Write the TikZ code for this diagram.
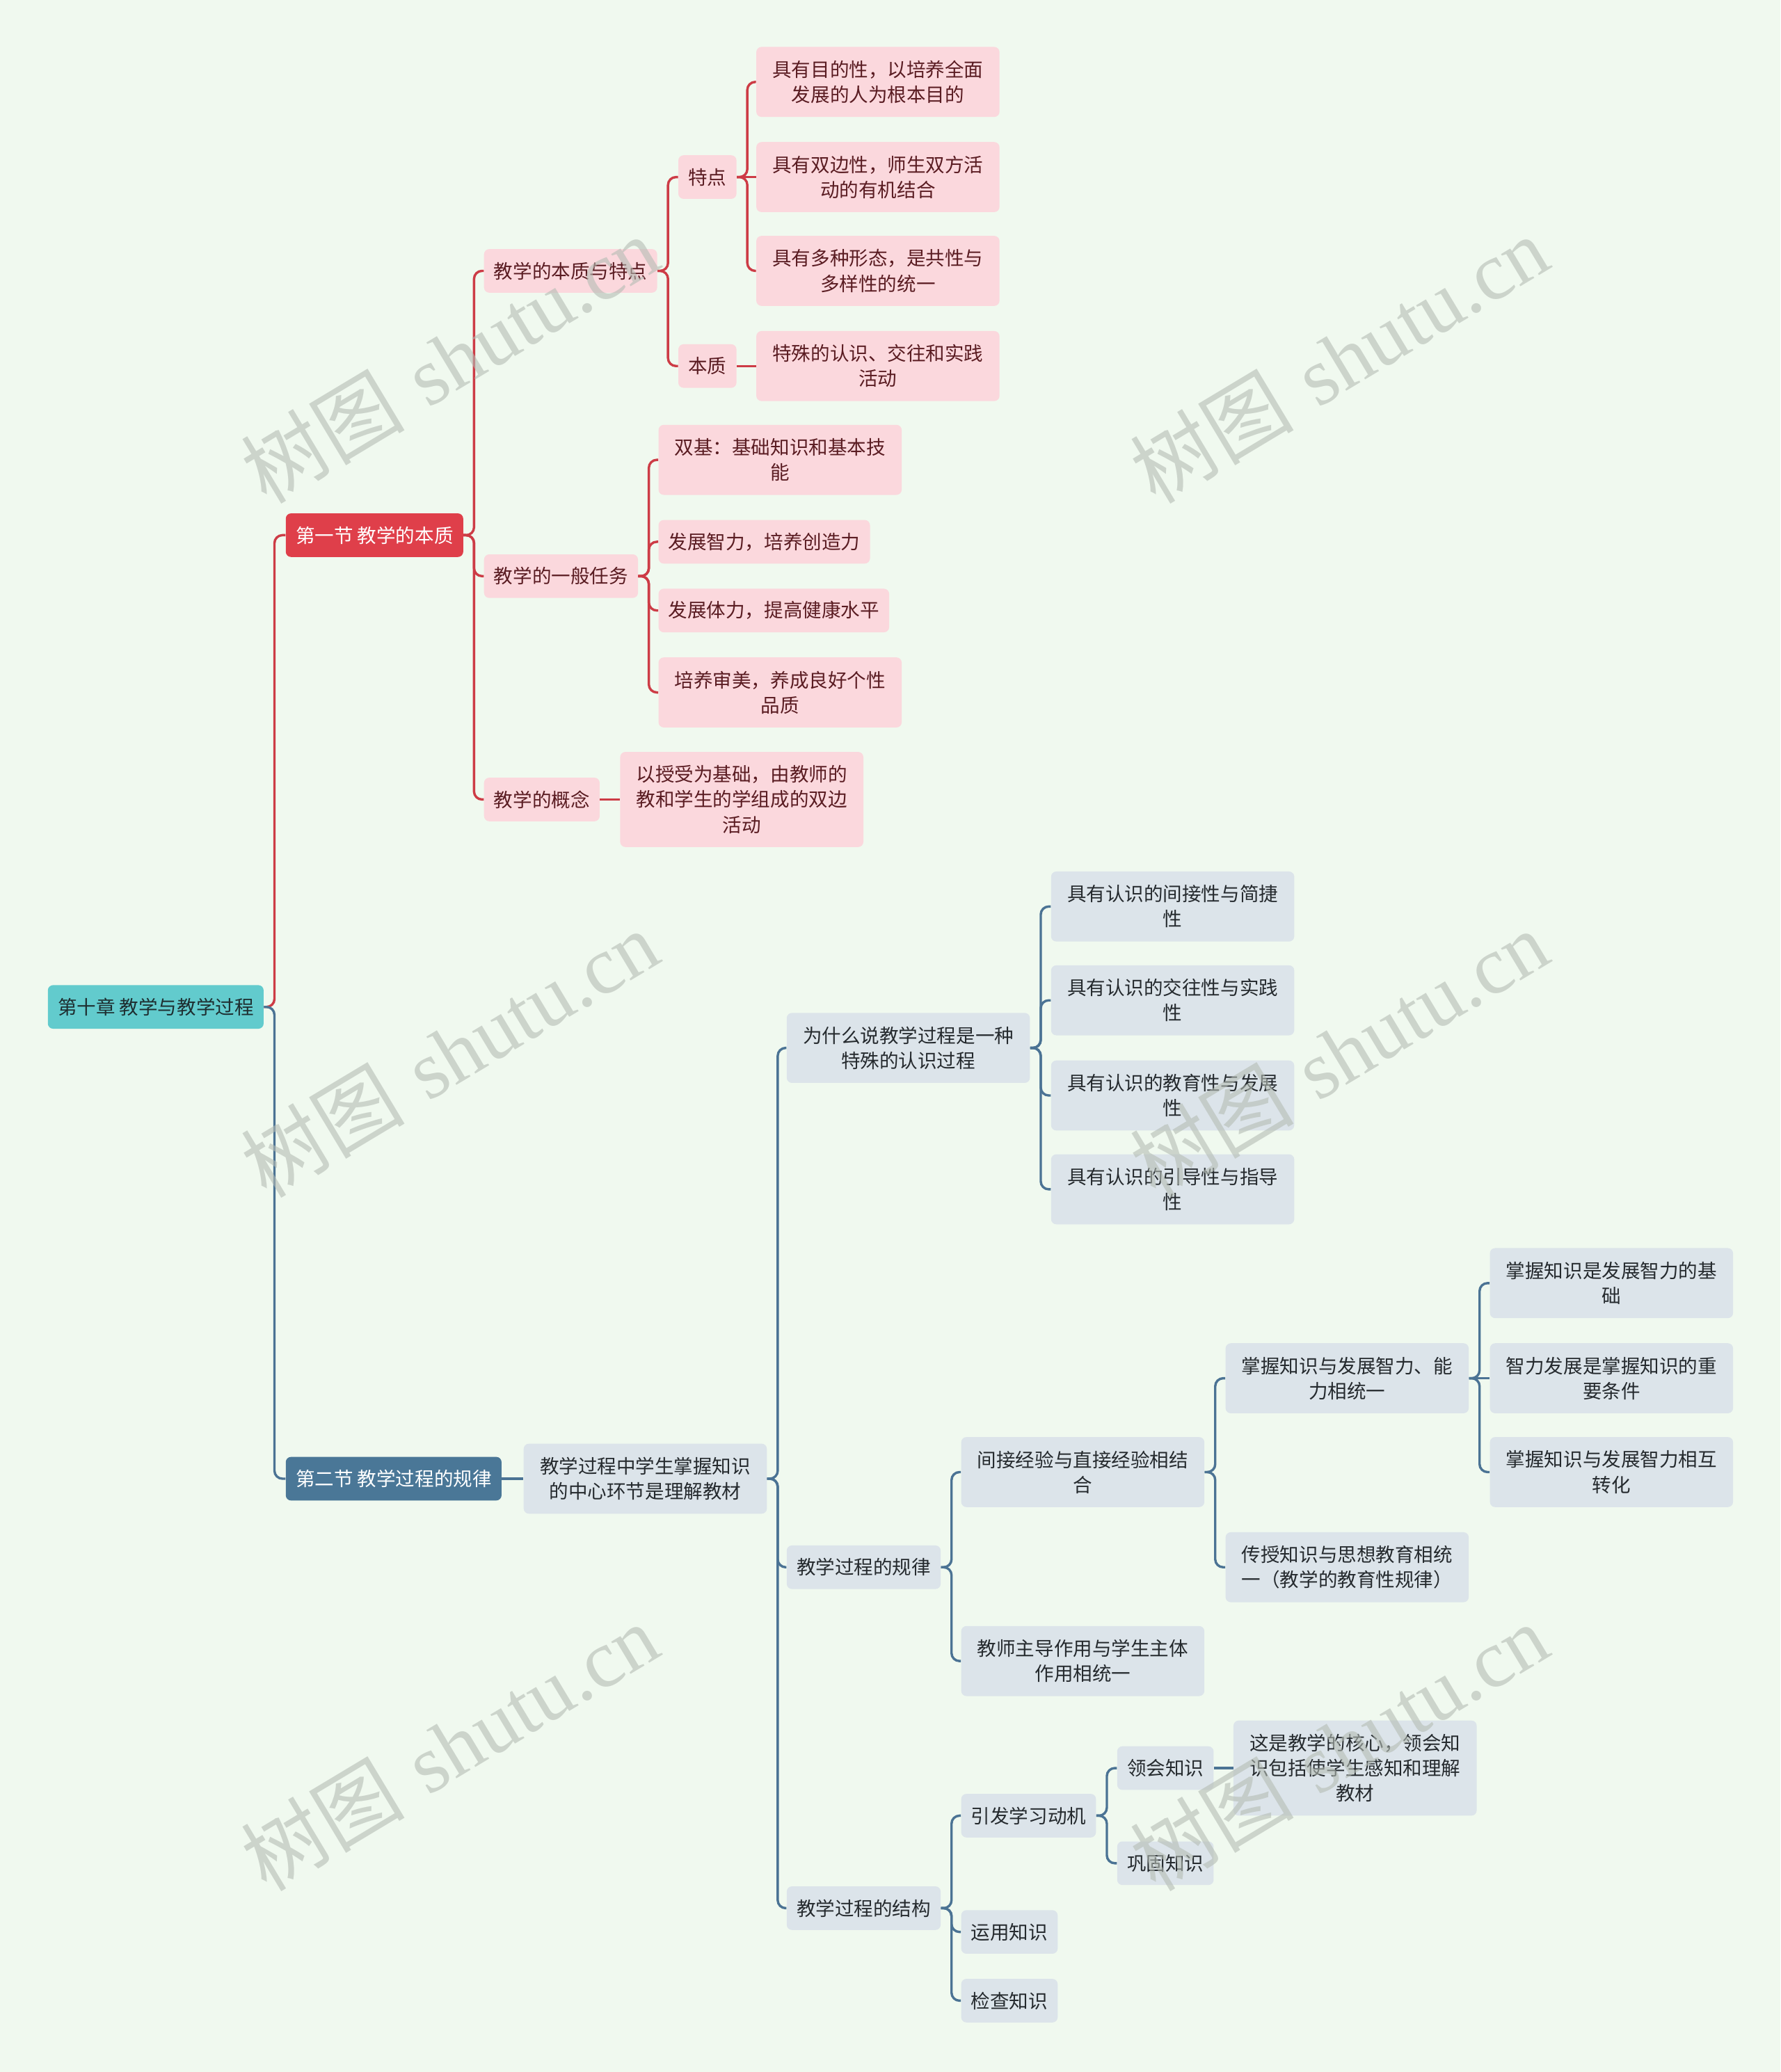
\documentclass[tikz,border=0pt]{standalone}
\usepackage{fontspec}
\newfontfamily\cjk{Noto Sans CJK SC}
\newfontfamily\wmfont{Liberation Serif}
\definecolor{bgc}{HTML}{F0F9EF}
\definecolor{rootc}{HTML}{62CBCD}
\definecolor{roott}{HTML}{1E2E30}
\definecolor{redc}{HTML}{DF3F4A}
\definecolor{redl}{HTML}{CD3C46}
\definecolor{bluec}{HTML}{4A7797}
\definecolor{bluel}{HTML}{4B7394}
\definecolor{pinkc}{HTML}{FBD8DD}
\definecolor{pinkt}{HTML}{5A1C22}
\definecolor{grayc}{HTML}{DCE4EA}
\definecolor{grayt}{HTML}{252A2E}
\definecolor{wmc}{HTML}{B4BCB4}
\newcommand\brR[2]{\draw[rl] (#1.east) -- ++(8,0) |- (#2.west);}
\newcommand\brB[2]{\draw[bl] (#1.east) -- ++(8,0) |- (#2.west);}
\begin{document}
\begin{tikzpicture}[x=1pt,y=-1pt,
  base/.style={rounded corners=4pt, font=\cjk\fontsize{14.5}{19}\selectfont, align=center,
    inner xsep=7.5pt, inner ysep=3pt, minimum height=33pt, anchor=west},
  rootn/.style={base, fill=rootc, text=roott},
  sec1/.style={base, fill=redc, text=white},
  sec2/.style={base, fill=bluec, text=white},
  pk/.style={base, fill=pinkc, text=pinkt},
  gr/.style={base, fill=grayc, text=grayt},
  wide/.style={minimum width=184pt},
  two/.style={minimum height=53pt},
  three/.style={minimum height=72pt},
  rl/.style={draw=redl, line width=1.8pt, rounded corners=6pt},
  bl/.style={draw=bluel, line width=1.8pt, rounded corners=6pt},
  wm/.style={text=wmc, opacity=0.6, rotate=31, font=\fontsize{62}{66}\selectfont}
]
\fill[bgc] (0,0) rectangle (1347,1568);
\useasboundingbox (0,0) rectangle (1347,1568);

% nodes
\node[rootn] (root) at (36,762) {第十章 教学与教学过程};
\node[sec1] (s1) at (216,405) {第一节 教学的本质};
\node[sec2] (s2) at (216,1119) {第二节 教学过程的规律};

\node[pk] (a1) at (366,205) {教学的本质与特点};
\node[pk] (a2) at (366,436) {教学的一般任务};
\node[pk] (a3) at (366,605) {教学的概念};

\node[pk] (b1) at (513,134) {特点};
\node[pk] (b2) at (513,277) {本质};

\node[pk,wide,two] (c1) at (572,62) {具有目的性，以培养全面\\发展的人为根本目的};
\node[pk,wide,two] (c2) at (572,134) {具有双边性，师生双方活\\动的有机结合};
\node[pk,wide,two] (c3) at (572,205) {具有多种形态，是共性与\\多样性的统一};
\node[pk,wide,two] (c4) at (572,277) {特殊的认识、交往和实践\\活动};

\node[pk,wide,two] (d1) at (498,348) {双基：基础知识和基本技\\能};
\node[pk] (d2) at (498,410) {发展智力，培养创造力};
\node[pk] (d3) at (498,462) {发展体力，提高健康水平};
\node[pk,wide,two] (d4) at (498,524) {培养审美，养成良好个性\\品质};

\node[pk,wide,three] (e1) at (469,605) {以授受为基础，由教师的\\教和学生的学组成的双边\\活动};

\node[gr,wide,two] (f) at (396,1119) {教学过程中学生掌握知识\\的中心环节是理解教材};

\node[gr,wide,two] (g1) at (595,793) {为什么说教学过程是一种\\特殊的认识过程};
\node[gr] (g2) at (595,1186) {教学过程的规律};
\node[gr] (g3) at (595,1444) {教学过程的结构};

\node[gr,wide,two] (h1) at (795,686) {具有认识的间接性与简捷\\性};
\node[gr,wide,two] (h2) at (795,757) {具有认识的交往性与实践\\性};
\node[gr,wide,two] (h3) at (795,829) {具有认识的教育性与发展\\性};
\node[gr,wide,two] (h4) at (795,900) {具有认识的引导性与指导\\性};

\node[gr,wide,two] (i1) at (727,1114) {间接经验与直接经验相结\\合};
\node[gr,wide,two] (i2) at (727,1257) {教师主导作用与学生主体\\作用相统一};

\node[gr,wide,two] (j1) at (927,1043) {掌握知识与发展智力、能\\力相统一};
\node[gr,wide,two] (j2) at (927,1186) {传授知识与思想教育相统\\一（教学的教育性规律）};

\node[gr,wide,two] (k1) at (1127,971) {掌握知识是发展智力的基\\础};
\node[gr,wide,two] (k2) at (1127,1043) {智力发展是掌握知识的重\\要条件};
\node[gr,wide,two] (k3) at (1127,1114) {掌握知识与发展智力相互\\转化};

\node[gr] (l1) at (727,1374) {引发学习动机};
\node[gr] (l2) at (727,1462) {运用知识};
\node[gr] (l3) at (727,1514) {检查知识};

\node[gr] (m1) at (845,1338) {领会知识};
\node[gr] (m2) at (845,1410) {巩固知识};

\node[gr,wide,three] (n1) at (933,1338) {这是教学的核心，领会知\\识包括使学生感知和理解\\教材};

% connectors
\brR{root}{s1}
\brB{root}{s2}

\brR{s1}{a1}
\brR{s1}{a2}
\brR{s1}{a3}
\brR{a1}{b1}
\brR{a1}{b2}
\brR{b1}{c1}
\draw[rl] (b1.east) -- (c2.west);
\brR{b1}{c3}
\draw[rl] (b2.east) -- (c4.west);
\brR{a2}{d1}
\brR{a2}{d2}
\brR{a2}{d3}
\brR{a2}{d4}
\draw[rl] (a3.east) -- (e1.west);

\draw[bl] (s2.east) -- (f.west);
\brB{f}{g1}
\brB{f}{g2}
\brB{f}{g3}
\brB{g1}{h1}
\brB{g1}{h2}
\brB{g1}{h3}
\brB{g1}{h4}
\brB{g2}{i1}
\brB{g2}{i2}
\brB{i1}{j1}
\brB{i1}{j2}
\brB{j1}{k1}
\draw[bl] (j1.east) -- (k2.west);
\brB{j1}{k3}
\brB{g3}{l1}
\brB{g3}{l2}
\brB{g3}{l3}
\brB{l1}{m1}
\brB{l1}{m2}
\draw[bl] (m1.east) -- (n1.west);

% watermarks
\node[wm] (wm1) at (340,272) {{\cjk 树图} {\wmfont shutu.cn}};
\node[wm] (wm2) at (1013,272) {{\cjk 树图} {\wmfont shutu.cn}};
\node[wm] (wm3) at (340,797) {{\cjk 树图} {\wmfont shutu.cn}};
\node[wm] (wm4) at (1013,797) {{\cjk 树图} {\wmfont shutu.cn}};
\node[wm] (wm5) at (340,1322) {{\cjk 树图} {\wmfont shutu.cn}};
\node[wm] (wm6) at (1013,1322) {{\cjk 树图} {\wmfont shutu.cn}};
\end{tikzpicture}
\end{document}
